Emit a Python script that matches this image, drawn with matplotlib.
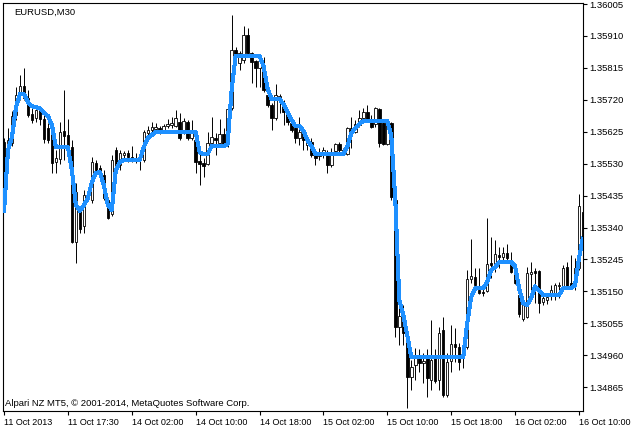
import numpy as np
import matplotlib.pyplot as plt

plt.rcParams['font.family'] = ['Liberation Sans', 'DejaVu Sans']

# EURUSD M30 bars, prices given in points above 1.34000
open_pts = [1594, 1591, 1591, 1675, 1737, 1761, 1725, 1678, 1666, 1689,
            1663, 1636, 1624, 1535, 1544, 1627, 1615, 1579, 1296, 1392,
            1344, 1433, 1421, 1532, 1517, 1496, 1421, 1380, 1570, 1526,
            1555, 1561, 1550, 1547, 1541, 1541, 1621, 1630, 1633, 1636,
            1627, 1642, 1645, 1642, 1654, 1624, 1654, 1606, 1600, 1538,
            1532, 1529, 1591, 1606, 1591, 1618, 1591, 1695, 1868, 1829,
            1838, 1913, 1859, 1835, 1815, 1815, 1734, 1704, 1666, 1722,
            1710, 1681, 1651, 1636, 1606, 1624, 1585, 1594, 1561, 1552,
            1558, 1561, 1526, 1567, 1588, 1570, 1558, 1636, 1624, 1645,
            1666, 1684, 1660, 1648, 1692, 1651, 1588, 1651, 1421, 1043,
            1070, 999, 894, 930, 951, 936, 951, 885, 951, 885,
            1034, 841, 942, 993, 984, 957, 984, 1186, 1192, 1153,
            1147, 1150, 1234, 1231, 1258, 1252, 1264, 1243, 1213, 1139,
            1067, 1073, 1201, 1210, 1210, 1118, 1124, 1139, 1145, 1165,
            1162, 1222, 1174, 1168, 1219, 1386]
high_pts = [1606, 1636, 1686, 1758, 1794, 1815, 1749, 1695, 1695, 1698,
            1675, 1651, 1654, 1570, 1654, 1749, 1663, 1600, 1472, 1401,
            1451, 1451, 1550, 1541, 1526, 1511, 1430, 1555, 1579, 1570,
            1567, 1570, 1582, 1561, 1561, 1630, 1642, 1654, 1651, 1642,
            1648, 1663, 1669, 1689, 1681, 1666, 1660, 1660, 1606, 1570,
            1547, 1624, 1669, 1621, 1663, 1636, 1704, 1972, 1877, 1865,
            1940, 1934, 1862, 1838, 1838, 1847, 1749, 1710, 1767, 1737,
            1719, 1686, 1669, 1645, 1669, 1636, 1615, 1606, 1564, 1576,
            1579, 1570, 1576, 1591, 1594, 1576, 1639, 1669, 1660, 1689,
            1695, 1704, 1675, 1698, 1695, 1657, 1660, 1654, 1436, 1103,
            1109, 1013, 945, 981, 978, 966, 978, 1064, 978, 1043,
            1073, 966, 1049, 1040, 996, 987, 1213, 1305, 1219, 1219,
            1156, 1368, 1311, 1302, 1281, 1281, 1290, 1267, 1222, 1177,
            1124, 1222, 1237, 1219, 1213, 1147, 1142, 1168, 1174, 1177,
            1228, 1237, 1258, 1249, 1439, 1407]
low_pts = [1392, 1550, 1582, 1660, 1719, 1719, 1669, 1651, 1654, 1645,
           1591, 1591, 1502, 1502, 1529, 1541, 1579, 1293, 1234, 1323,
           1323, 1430, 1412, 1496, 1487, 1421, 1365, 1374, 1517, 1511,
           1541, 1535, 1535, 1532, 1511, 1535, 1612, 1615, 1624, 1618,
           1624, 1636, 1636, 1639, 1600, 1618, 1600, 1600, 1502, 1466,
           1490, 1526, 1579, 1555, 1579, 1579, 1579, 1689, 1823, 1809,
           1829, 1853, 1770, 1758, 1758, 1743, 1698, 1630, 1660, 1681,
           1645, 1645, 1624, 1591, 1585, 1570, 1570, 1550, 1526, 1541,
           1547, 1502, 1520, 1561, 1561, 1555, 1555, 1576, 1621, 1639,
           1660, 1654, 1636, 1639, 1579, 1585, 1585, 1421, 1013, 990,
           990, 802, 856, 885, 909, 876, 835, 856, 876, 856,
           835, 835, 909, 939, 915, 921, 978, 1174, 1153, 1142,
           1136, 1147, 1189, 1207, 1219, 1243, 1243, 1204, 1171, 1073,
           1061, 1070, 1130, 1115, 1085, 1109, 1112, 1124, 1124, 1130,
           1159, 1159, 1156, 1153, 1213, 1296]
close_pts = [1451, 1600, 1672, 1734, 1761, 1725, 1675, 1660, 1689, 1663,
             1603, 1600, 1532, 1547, 1624, 1612, 1585, 1296, 1445, 1335,
             1436, 1445, 1535, 1511, 1505, 1427, 1368, 1541, 1526, 1561,
             1561, 1550, 1544, 1541, 1558, 1624, 1630, 1639, 1639, 1627,
             1642, 1648, 1651, 1666, 1606, 1657, 1606, 1621, 1535, 1529,
             1523, 1591, 1609, 1600, 1618, 1585, 1692, 1868, 1853, 1859,
             1913, 1859, 1832, 1815, 1835, 1749, 1704, 1666, 1734, 1731,
             1684, 1654, 1630, 1606, 1624, 1600, 1600, 1555, 1547, 1564,
             1570, 1526, 1564, 1588, 1570, 1561, 1636, 1624, 1648, 1666,
             1684, 1657, 1639, 1695, 1591, 1588, 1654, 1430, 1043, 1076,
             1025, 894, 924, 951, 936, 942, 891, 945, 882, 1025,
             841, 939, 993, 984, 939, 984, 1186, 1195, 1168, 1145,
             1146, 1231, 1228, 1261, 1252, 1264, 1249, 1207, 1174, 1082,
             1109, 1204, 1207, 1204, 1115, 1130, 1133, 1153, 1168, 1168,
             1219, 1162, 1162, 1219, 1404, 1302]
# blue indicator line
line_pts = [1386, 1570, 1609, 1698, 1737, 1737, 1713, 1701, 1698, 1695,
            1681, 1672, 1645, 1579, 1579, 1579, 1579, 1511, 1407, 1389,
            1407, 1427, 1475, 1502, 1505, 1466, 1407, 1392, 1511, 1535,
            1541, 1541, 1541, 1541, 1541, 1579, 1606, 1615, 1624, 1624,
            1624, 1624, 1624, 1624, 1624, 1624, 1624, 1624, 1624, 1564,
            1558, 1558, 1582, 1582, 1582, 1582, 1588, 1749, 1850, 1850,
            1850, 1850, 1850, 1850, 1850, 1820, 1755, 1722, 1722, 1722,
            1707, 1684, 1660, 1642, 1642, 1627, 1600, 1582, 1558, 1558,
            1558, 1558, 1558, 1558, 1558, 1558, 1582, 1621, 1636, 1648,
            1657, 1657, 1657, 1657, 1657, 1657, 1657, 1612, 1421, 1124,
            1079, 1019, 954, 954, 954, 954, 954, 954, 954, 954,
            954, 954, 954, 954, 954, 954, 1055, 1133, 1159, 1159,
            1159, 1177, 1213, 1222, 1237, 1237, 1237, 1237, 1225, 1159,
            1115, 1109, 1130, 1165, 1153, 1139, 1139, 1139, 1139, 1139,
            1159, 1159, 1159, 1168, 1249, 1311]

tick_labels = ['11 Oct 2013', '11 Oct 17:30', '14 Oct 02:00', '14 Oct 10:00',
               '14 Oct 18:00', '15 Oct 02:00', '15 Oct 10:00', '15 Oct 18:00',
               '16 Oct 02:00', '16 Oct 10:00']
price_ticks = [1.36005 - 0.00095 * k for k in range(13)]

base = 1.34
o = base + np.array(open_pts) / 1e5
h = base + np.array(high_pts) / 1e5
l = base + np.array(low_pts) / 1e5
c = base + np.array(close_pts) / 1e5
ma = base + np.array(line_pts) / 1e5
x = np.arange(len(o))

fig = plt.figure(figsize=(6.32, 4.33), dpi=100)
ax = fig.add_axes([3 / 632, 22 / 433, 580 / 632, 408 / 433])

ax.vlines(x, l, h, color='black', linewidth=0.7, zorder=2)
up = c >= o
body_h = np.maximum(np.abs(c - o), 1e-7)
ax.bar(x, body_h, bottom=np.minimum(o, c), width=0.62,
       color=np.where(up, 'white', 'black'), edgecolor='black',
       linewidth=0.6, zorder=3)

# indicator line: thick, drawn bar to bar like the terminal does
ax.plot(x, ma, color='#1E90FF', linewidth=2.2, antialiased=False,
        solid_capstyle='butt', zorder=4)

ax.set_xlim(-0.25, 145.0)
ax.set_ylim(1.34794, 1.36008)

ax.set_xticks(np.arange(0, 145, 16))
ax.set_xticklabels(tick_labels, fontsize=6.5, ha='left')
ax.tick_params(axis='x', direction='out', length=3, width=0.8, pad=2)

ax.yaxis.tick_right()
ax.set_yticks(price_ticks)
ax.set_yticklabels(['%.5f' % v for v in price_ticks], fontsize=6.8)
ax.tick_params(axis='y', direction='out', length=3, width=0.8, pad=1.5)

for s in ax.spines.values():
    s.set_linewidth(0.8)

ax.text(0.019, 0.978, 'EURUSD,M30', transform=ax.transAxes, fontsize=6.8,
        va='center', ha='left')
ax.text(0.004, 0.018, 'Alpari NZ MT5, \u00a9 2001-2014, MetaQuotes Software Corp.',
        transform=ax.transAxes, fontsize=6.8, va='center', ha='left')

fig.savefig('out.png', dpi=100)
